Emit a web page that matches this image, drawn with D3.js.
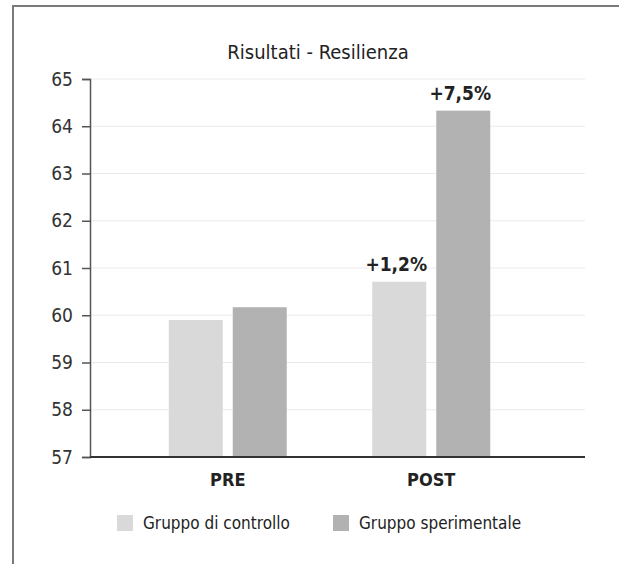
<!DOCTYPE html>
<html>
<head>
<meta charset="utf-8">
<script src="https://cdn.jsdelivr.net/npm/d3@7"></script>
<style>
  html, body { margin: 0; padding: 0; background: #fff; }
  svg { display: block; font-family: "Liberation Sans Narrow", "DejaVu Sans Condensed", "Open Sans", sans-serif; }
</style>
</head>
<body>
<svg id="chart" width="619" height="564"></svg>
<script>
const title = "Risultati - Resilienza";
const categories = ["PRE", "POST"];
const seriesNames = ["Gruppo di controllo", "Gruppo sperimentale"];
const controlValues = [59.9, 60.71];
const experimentalValues = [60.17, 64.33];
const changeLabels = [["", ""], ["+1,2%", "+7,5%"]];
const yTicks = [57, 58, 59, 60, 61, 62, 63, 64, 65];
const colors = ["#d9d9d9", "#b2b2b2"];

const svg = d3.select("#chart");

// frame
svg.append("path")
  .attr("d", "M13,564 L13,6 L619,6")
  .attr("fill", "none").attr("stroke", "#7a7a7a").attr("stroke-width", 2);

const plotLeft = 90, plotRight = 585, plotTop = 79, plotBottom = 457;

const y = d3.scaleLinear().domain([57, 65]).range([plotBottom, plotTop]);
const x = d3.scaleBand().domain(categories).range([126, 533]).padding(0);
const xs = d3.scaleBand().domain(seriesNames).range([-59, 59]).paddingInner(10 / 64).paddingOuter(0);

// gridlines
svg.append("g").selectAll("line").data(yTicks.slice(1)).join("line")
  .attr("x1", plotLeft).attr("x2", plotRight)
  .attr("y1", d => y(d)).attr("y2", d => y(d))
  .attr("stroke", "#ebebeb").attr("stroke-width", 1.2);

// title
svg.append("text").attr("x", 318).attr("y", 59).attr("text-anchor", "middle")
  .attr("font-size", 20).attr("fill", "#222").text(title);

// bars
const data = categories.map((c, i) => ({
  cat: c,
  vals: [controlValues[i], experimentalValues[i]],
  labels: changeLabels[i]
}));

const groups = svg.append("g").selectAll("g").data(data).join("g")
  .attr("transform", d => `translate(${x(d.cat) + x.bandwidth() / 2},0)`);

groups.selectAll("rect").data(d => d.vals.map((v, j) => ({ v, s: seriesNames[j], j })))
  .join("rect")
  .attr("x", d => xs(d.s)).attr("width", xs.bandwidth())
  .attr("y", d => y(d.v)).attr("height", d => y(57) - y(d.v))
  .attr("fill", d => colors[d.j]);

groups.selectAll("text.lbl").data(d => d.vals.map((v, j) => ({ v, s: seriesNames[j], t: d.labels[j] })))
  .join("text").attr("class", "lbl")
  .attr("x", d => xs(d.s) + xs.bandwidth() / 2 - 3)
  .attr("y", d => y(d.v) - 11)
  .attr("text-anchor", "middle").attr("font-size", 19).attr("font-weight", "bold")
  .attr("fill", "#222").text(d => d.t);

// y axis
const yAxis = d3.axisLeft(y).tickValues(yTicks).tickSize(8).tickPadding(9).tickFormat(d3.format("d"));
const gy = svg.append("g").attr("transform", `translate(${plotLeft},0)`).call(yAxis);
gy.select(".domain").attr("stroke", "#555").attr("stroke-width", 1.5);
gy.selectAll(".tick line").attr("stroke", "#555").attr("stroke-width", 1.5);
gy.selectAll(".tick text").attr("font-size", 19).attr("fill", "#333")
  .attr("font-family", "Liberation Sans Narrow, DejaVu Sans Condensed, sans-serif");

// x axis
const xAxis = d3.axisBottom(x).tickSize(0).tickPadding(16);
const gx = svg.append("g").attr("transform", `translate(0,${plotBottom})`).call(xAxis);
gx.select(".domain").remove();
gx.selectAll(".tick text").attr("font-size", 18).attr("font-weight", "bold").attr("fill", "#222")
  .attr("font-family", "Liberation Sans Narrow, DejaVu Sans Condensed, sans-serif");
svg.append("line").attr("x1", plotLeft).attr("x2", plotRight)
  .attr("y1", plotBottom).attr("y2", plotBottom)
  .attr("stroke", "#333").attr("stroke-width", 2);

// legend
const legendX = [117, 333];
const lg = svg.append("g").selectAll("g").data(seriesNames).join("g")
  .attr("transform", (d, i) => `translate(${legendX[i]},515)`);
lg.append("rect").attr("width", 16).attr("height", 16).attr("fill", (d, i) => colors[i]);
lg.append("text").attr("x", 26).attr("y", 14).attr("font-size", 17).attr("fill", "#222").text(d => d);
</script>
</body>
</html>
